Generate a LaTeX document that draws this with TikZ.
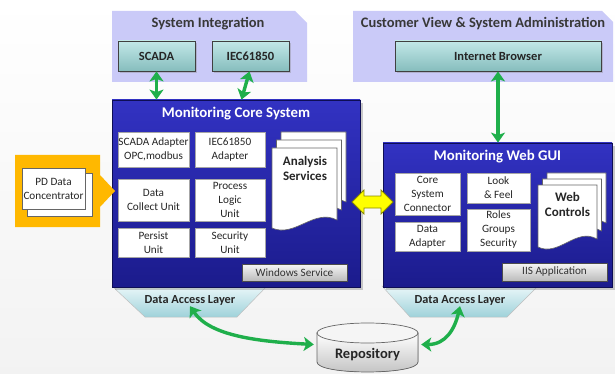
\documentclass[tikz,border=0pt]{standalone}
\usepackage{fontspec}
\setmainfont{Carlito}
\usetikzlibrary{arrows.meta,shadows,calc}

\definecolor{lav}{HTML}{CACAF8}
\definecolor{titlegray}{HTML}{383838}
\definecolor{tealtop}{HTML}{C2E8E8}
\definecolor{tealbot}{HTML}{86BDBD}
\definecolor{navytop}{HTML}{3232C2}
\definecolor{navybot}{HTML}{1B1B8C}
\definecolor{navyline}{HTML}{0E0E55}
\definecolor{arrowgreen}{HTML}{1FAF4B}
\definecolor{gold}{HTML}{FFB800}
\definecolor{daltop}{HTML}{EAF7F9}
\definecolor{dalbot}{HTML}{9FD2DA}
\definecolor{btntop}{HTML}{F6F6F6}
\definecolor{btnbot}{HTML}{BBBBBB}
\definecolor{syncfill}{HTML}{FFFF00}
\definecolor{syncline}{HTML}{8A8A00}

% a sheet with a wavy lower edge: #1,#2 = upper left corner, #3 = width, #4 = height
\newcommand\WavySheet[4]{%
  \filldraw[sheet] (#1,#2) -- ++(#3,0) -- ++(0,#4-8)
    .. controls ($(#1,#2)+(0.65*#3,#4-20)$) and ($(#1,#2)+(0.35*#3,#4+10)$) .. (#1,#2+#4) -- cycle;}

\tikzset{
  panel/.style={fill=lav},
  paneltitle/.style={font=\fontsize{14.5}{16}\selectfont\bfseries, text=titlegray, inner sep=0},
  extbox/.style={draw=black!75, line width=0.8pt, top color=tealtop, bottom color=tealbot,
    font=\fontsize{12.5}{14}\selectfont\bfseries, text=black!85, inner sep=0,
    drop shadow={opacity=0.35, shadow xshift=2pt, shadow yshift=-2pt}},
  sysbox/.style={draw=navyline, line width=0.8pt, top color=navytop, bottom color=navybot, inner sep=0,
    drop shadow={opacity=0.4, shadow xshift=3pt, shadow yshift=-3pt}},
  systitle/.style={font=\fontsize{14.8}{16}\selectfont\bfseries, text=white, inner sep=0},
  unit/.style={fill=white, draw=black!35, line width=0.5pt, inner sep=0, align=center,
    font=\fontsize{11.2}{14}\selectfont, text=black!85},
  button/.style={draw=black!70, line width=0.6pt, top color=btntop, bottom color=btnbot, inner sep=0,
    font=\fontsize{11.2}{13}\selectfont, text=black!80},
  sheet/.style={fill=white, draw=black!60, line width=0.6pt},
  sheettext/.style={font=\fontsize{13}{15}\selectfont\bfseries, text=black!85, align=center, inner sep=0},
  dal/.style={draw=black!25, line width=0.5pt, top color=daltop, bottom color=dalbot},
  daltext/.style={font=\fontsize{12.3}{14}\selectfont\bfseries, text=black!85, inner sep=0},
  link/.style={draw=arrowgreen, line width=3.4pt,
    {Stealth[length=10pt,width=14pt,inset=2.5pt]}-{Stealth[length=10pt,width=14pt,inset=2.5pt]}},
}

\begin{document}
\begin{tikzpicture}[x=1pt,y=-1pt]
\useasboundingbox (0,0) rectangle (615,374);
\fill[top color=white, bottom color=black!5] (0,0) rectangle (615,374);

% upper panels
\fill[panel] (112,11) -- (295,11) -- (307,23) -- (307,82) -- (112,82) -- cycle;
\fill[panel] (353,11) -- (602,11) -- (613,22) -- (613,82) -- (353,82) -- cycle;
\node[paneltitle] (sititle) at (208,24) {System Integration};
\node[paneltitle] (cvtitle) at (483,24) {Customer View \& System Administration};

\node[extbox, minimum width=77pt, minimum height=30pt] (scada) at (156.5,56) {SCADA};
\node[extbox, minimum width=77pt, minimum height=30pt] (iec) at (250.5,56) {IEC61850};
\node[extbox, minimum width=206pt, minimum height=30pt] (browser) at (498,56) {Internet Browser};

% data access layers
\path[dal] (112,286) -- (267,286) -- (237,317) -- (145,317) -- cycle;
\node[daltext] (dalL) at (190,300) {Data Access Layer};
\path[dal] (382,286) -- (538,286) -- (507,317) -- (410,317) -- cycle;
\node[daltext] (dalR) at (460,300) {Data Access Layer};

% monitoring core system
\node[sysbox, minimum width=248pt, minimum height=187pt] (core) at (236,193.5) {};
\node[systitle] (coretitle) at (236,114) {Monitoring Core System};
\node[unit, minimum width=71pt, minimum height=35pt] (scadaad) at (153.5,149.5) {SCADA Adapter\\OPC,modbus};
\node[unit, minimum width=70pt, minimum height=35pt] (iecad) at (230,149.5) {IEC61850\\Adapter};
\node[unit, minimum width=71pt, minimum height=42pt] (collect) at (153.5,200) {Data\\Collect Unit};
\node[unit, minimum width=70pt, minimum height=42pt] (logic) at (230,200) {Process\\Logic\\Unit};
\node[unit, minimum width=71pt, minimum height=29pt] (persist) at (153.5,242.5) {Persist\\Unit};
\node[unit, minimum width=70pt, minimum height=29pt] (security) at (230,242.5) {Security\\Unit};
\WavySheet{281}{132}{65}{78}
\WavySheet{276.5}{140}{65}{78}
\WavySheet{272}{148}{65}{80}
\node[sheettext] (analysis) at (305,168.5) {Analysis\\Services};
\node[button, minimum width=105pt, minimum height=17pt] (winsvc) at (294.5,272.5) {Windows Service};

% monitoring web gui
\node[sysbox, minimum width=229pt, minimum height=144pt] (web) at (497.5,215) {};
\node[systitle] (webtitle) at (497.5,157) {Monitoring Web GUI};
\node[unit, minimum width=65pt, minimum height=42pt] (connector) at (427.5,194) {Core\\System\\Connector};
\node[unit, minimum width=63pt, minimum height=30pt] (look) at (498.5,188) {Look\\\& Feel};
\node[unit, minimum width=65pt, minimum height=29pt] (dataad) at (427.5,236.5) {Data\\Adapter};
\node[unit, minimum width=63pt, minimum height=42pt] (roles) at (498.5,230) {Roles\\Groups\\Security};
\WavySheet{547}{173}{59}{58}
\WavySheet{542.5}{179}{59}{60}
\WavySheet{538}{185}{59}{62}
\node[sheettext] (webctl) at (567.5,204) {Web\\Controls};
\node[button, minimum width=105pt, minimum height=18pt] (iis) at (554.5,272) {IIS Application};

% core <-> web synchronisation arrow
\filldraw[fill=syncfill, draw=syncline, line width=0.8pt]
  (352,202) -- (364,190) -- (364,196) -- (381,196) -- (381,190) -- (393,202)
  -- (381,214) -- (381,208) -- (364,208) -- (364,214) -- cycle;

% PD data concentrator
\fill[gold] (15,155) -- (100,155) -- (100,175) -- (115,191) -- (100,207) -- (100,227) -- (15,227) -- cycle;
\filldraw[sheet] (27,173) rectangle (92,216);
\filldraw[sheet] (22,168) rectangle (85,209);
\node[font=\fontsize{11.2}{14}\selectfont, text=black!85, align=center, inner sep=0] (pd) at (53.5,188.5) {PD Data\\Concentrator};

% repository
\filldraw[draw=black!60, line width=0.7pt, top color=white, bottom color=black!25]
  (317,333) -- (317,362) .. controls (317,375.3) and (418,375.3) .. (418,362) -- (418,333) -- cycle;
\filldraw[draw=black!60, line width=0.7pt, fill=black!4] (367.5,333) ellipse [x radius=50.5, y radius=10];
\node[inner sep=0, minimum width=101pt, minimum height=48pt] (repo) at (367.5,347.5) {};
\node[font=\fontsize{14.5}{16}\selectfont\bfseries, text=black!85, inner sep=0] (repotext) at (367.5,355) {Repository};

% green links
\draw[link] (scada.south) -- (scada.south |- core.north);
\draw[link] ([xshift=-1pt]iec.south) -- ([xshift=-9pt]iec.south |- core.north);
\draw[link] (browser.south) -- (browser.south |- web.north);
\draw[link] ([yshift=-1pt]dalL.south) .. controls +(20,30) and +(-55,-3) .. ([xshift=-3pt,yshift=3pt]repo.west);
\draw[link] ([yshift=-1pt]dalR.south) .. controls +(-5,22) and +(25,0) .. ([xshift=3pt,yshift=3pt]repo.east);
\end{tikzpicture}
\end{document}
